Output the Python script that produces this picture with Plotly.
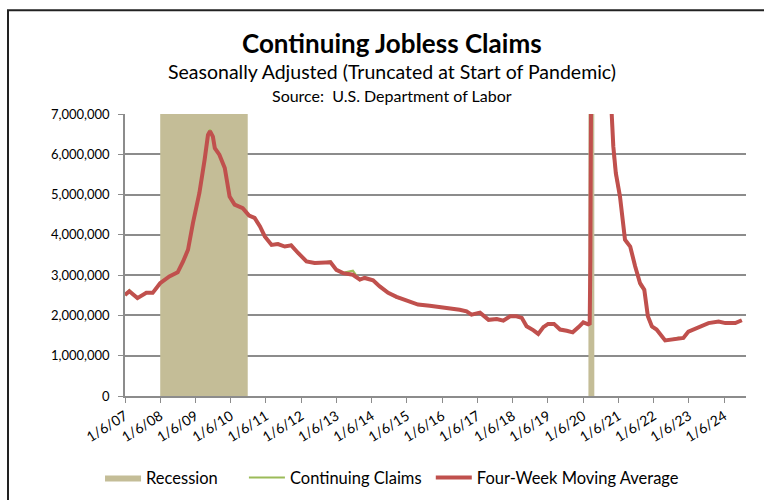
import plotly.graph_objects as go

# four-week moving average of continuing claims
avg_dates = [
    "2007-01-06", "2007-02-20", "2007-05-15", "2007-08-15", "2007-10-20",
    "2008-01-05", "2008-04-10", "2008-07-05", "2008-08-30", "2008-10-20",
    "2008-12-10", "2009-02-15", "2009-04-10", "2009-05-15", "2009-06-05",
    "2009-07-05", "2009-07-25", "2009-09-10", "2009-11-05", "2009-12-25",
    "2010-02-15", "2010-05-10", "2010-07-15", "2010-09-10", "2010-11-05",
    "2010-12-25", "2011-03-05", "2011-05-10", "2011-07-20", "2011-09-25",
    "2011-12-05", "2012-03-01", "2012-05-25", "2012-08-20", "2012-11-05",
    "2013-01-05", "2013-03-15", "2013-06-25", "2013-09-05", "2013-10-25",
    "2014-01-20", "2014-03-30", "2014-06-25", "2014-09-20", "2015-01-01",
    "2015-05-01", "2015-08-30", "2015-12-15", "2016-03-25", "2016-07-05",
    "2016-09-15", "2016-11-05", "2017-02-01", "2017-05-01", "2017-07-25",
    "2017-10-01", "2017-12-10", "2018-02-15", "2018-04-10", "2018-05-30",
    "2018-08-10", "2018-09-28", "2018-11-20", "2019-01-08", "2019-03-10",
    "2019-05-12", "2019-07-20", "2019-09-20", "2019-11-20", "2020-01-08",
    "2020-02-28", "2020-03-14", "2020-03-21", "2020-03-28", "2020-04-11",
    "2020-05-09", "2020-06-20", "2020-08-15", "2020-09-26", "2020-10-24",
    "2020-11-14", "2020-12-10", "2021-01-22", "2021-03-15", "2021-05-08",
    "2021-06-28", "2021-08-18", "2021-10-01", "2021-11-07", "2021-12-18",
    "2022-02-05", "2022-05-05", "2022-07-12", "2022-09-20", "2022-11-10",
    "2023-01-01", "2023-04-15", "2023-07-28", "2023-11-10", "2024-01-20",
    "2024-05-01", "2024-07-08",
]
avg_values = [
    2510000, 2600000, 2430000, 2560000, 2560000,
    2800000, 2970000, 3070000, 3340000, 3630000,
    4290000, 5040000, 5860000, 6480000, 6570000,
    6440000, 6150000, 5990000, 5660000, 4950000,
    4750000, 4660000, 4480000, 4420000, 4210000,
    3960000, 3750000, 3770000, 3710000, 3740000,
    3550000, 3340000, 3300000, 3300000, 3320000,
    3130000, 3050000, 3010000, 2890000, 2930000,
    2870000, 2720000, 2560000, 2460000, 2370000,
    2270000, 2240000, 2210000, 2160000, 2140000,
    2100000, 2020000, 2070000, 1890000, 1910000,
    1870000, 1980000, 1980000, 1940000, 1730000,
    1630000, 1540000, 1710000, 1790000, 1790000,
    1650000, 1620000, 1580000, 1710000, 1830000,
    1780000, 1800000, 3400000, 7500000, 15000000,
    22500000, 18000000, 14000000, 10500000, 7200000,
    6190000, 5530000, 4950000, 3880000, 3710000,
    3220000, 2800000, 2640000, 1980000, 1730000,
    1650000, 1380000, 1400000, 1440000, 1440000,
    1600000, 1700000, 1810000, 1850000, 1810000,
    1810000, 1880000,
]

# weekly continuing claims, mostly hidden behind the average
claims_values = [
    2500000, 2630000, 2420000, 2570000, 2550000,
    2810000, 2960000, 3090000, 3330000, 3650000,
    4300000, 5060000, 5850000, 6500000, 6610000,
    6430000, 6170000, 5970000, 5680000, 4930000,
    4770000, 4650000, 4500000, 4400000, 4230000,
    3930000, 3760000, 3790000, 3700000, 3760000,
    3530000, 3350000, 3290000, 3310000, 3350000,
    3110000, 3060000, 3110000, 2870000, 2950000,
    2860000, 2730000, 2580000, 2440000, 2380000,
    2260000, 2250000, 2200000, 2170000, 2130000,
    2110000, 2010000, 2080000, 1880000, 1920000,
    1860000, 1990000, 1970000, 1950000, 1720000,
    1640000, 1530000, 1730000, 1780000, 1800000,
    1640000, 1630000, 1570000, 1720000, 1820000,
    1770000, 1810000, 3100000, 7400000, 16000000,
    23000000, 17500000, 13500000, 10000000, 7000000,
    6000000, 5450000, 4900000, 3850000, 3700000,
    3200000, 2750000, 2600000, 1950000, 1700000,
    1640000, 1370000, 1410000, 1450000, 1430000,
    1610000, 1690000, 1820000, 1840000, 1800000,
    1820000, 1870000,
]

# recession periods (as drawn)
recession_start = ["2008-01-06", "2020-03-01"]
recession_end = ["2010-07-01", "2020-05-01"]

tick_dates = ["%d-01-06" % y for y in range(2007, 2025)]
tick_labels = ["1/6/%02d" % (y % 100) for y in range(2007, 2025)]

FONT = "Lato, 'Open Sans', sans-serif"
TAN = "#C4BD97"
GREEN = "#9BBB59"
RED = "#C0504D"
GRID = "#8c8c8c"
NB = "\u00a0"

# build recession polygons
rec_x, rec_y = [], []
for s, e in zip(recession_start, recession_end):
    rec_x += [s, s, e, e, s, None]
    rec_y += [0, 7000000, 7000000, 0, 0, None]

fig = go.Figure()
fig.add_trace(go.Scatter(x=rec_x, y=rec_y, fill="toself", fillcolor=TAN,
                         line=dict(width=0, color=TAN), mode="lines",
                         name="Recession" + NB * 5, hoverinfo="skip"))
fig.add_trace(go.Scatter(x=avg_dates, y=claims_values, mode="lines",
                         line=dict(color=GREEN, width=2),
                         name="Continuing Claims" + NB))
fig.add_trace(go.Scatter(x=avg_dates, y=avg_values, mode="lines",
                         line=dict(color=RED, width=4), name="Four-Week Moving Average"))

# titles
fig.add_annotation(text="<b>Continuing Jobless Claims</b>", x=0.43, y=1.252,
                   xref="paper", yref="paper", yanchor="middle", showarrow=False,
                   font=dict(size=26, color="black", family=FONT))
fig.add_annotation(text="Seasonally Adjusted (Truncated at Start of Pandemic)", x=0.43, y=1.149,
                   xref="paper", yref="paper", yanchor="middle", showarrow=False,
                   font=dict(size=19.5, color="black", family=FONT))
fig.add_annotation(text="Source:  U.S. Department of Labor", x=0.43, y=1.067,
                   xref="paper", yref="paper", yanchor="middle", showarrow=False,
                   font=dict(size=16, color="black", family=FONT))

# chart frame
fig.add_shape(type="rect", xref="paper", yref="paper",
              x0=-0.1884, x1=1.05, y0=-0.45, y1=1.368,
              line=dict(color="#222222", width=2), layer="below")

fig.update_layout(
    width=764, height=500,
    margin=dict(l=125, r=18, t=114, b=104, autoexpand=False),
    paper_bgcolor="white", plot_bgcolor="white",
    font=dict(family=FONT, size=14, color="black"),
    showlegend=True,
    legend=dict(orientation="h", x=0.43, xanchor="center", y=-0.29, yanchor="middle",
                font=dict(size=16.5, family=FONT), itemwidth=36, traceorder="normal"),
    hovermode="x",
)
fig.update_xaxes(
    type="date", range=["2007-01-06", "2024-08-20"], automargin=False,
    tickvals=tick_dates, ticktext=tick_labels, tickangle=-32,
    ticks="outside", ticklen=5, tickcolor=GRID,
    showline=True, linecolor=GRID, linewidth=1.5,
    showgrid=False, tickfont=dict(size=14),
)
fig.update_yaxes(
    range=[0, 7000000], dtick=1000000, tickformat=",", automargin=False,
    ticks="outside", ticklen=5, tickcolor=GRID, ticklabelstandoff=6,
    showline=True, linecolor=GRID, linewidth=1.5,
    showgrid=True, gridcolor=GRID, gridwidth=1.5,
    zeroline=False, tickfont=dict(size=13),
)

# drop the default page margin so the figure sits at the window's corner
fig.write_html("out.html", config={"displayModeBar": False},
               post_script="document.body.style.margin='0';")
